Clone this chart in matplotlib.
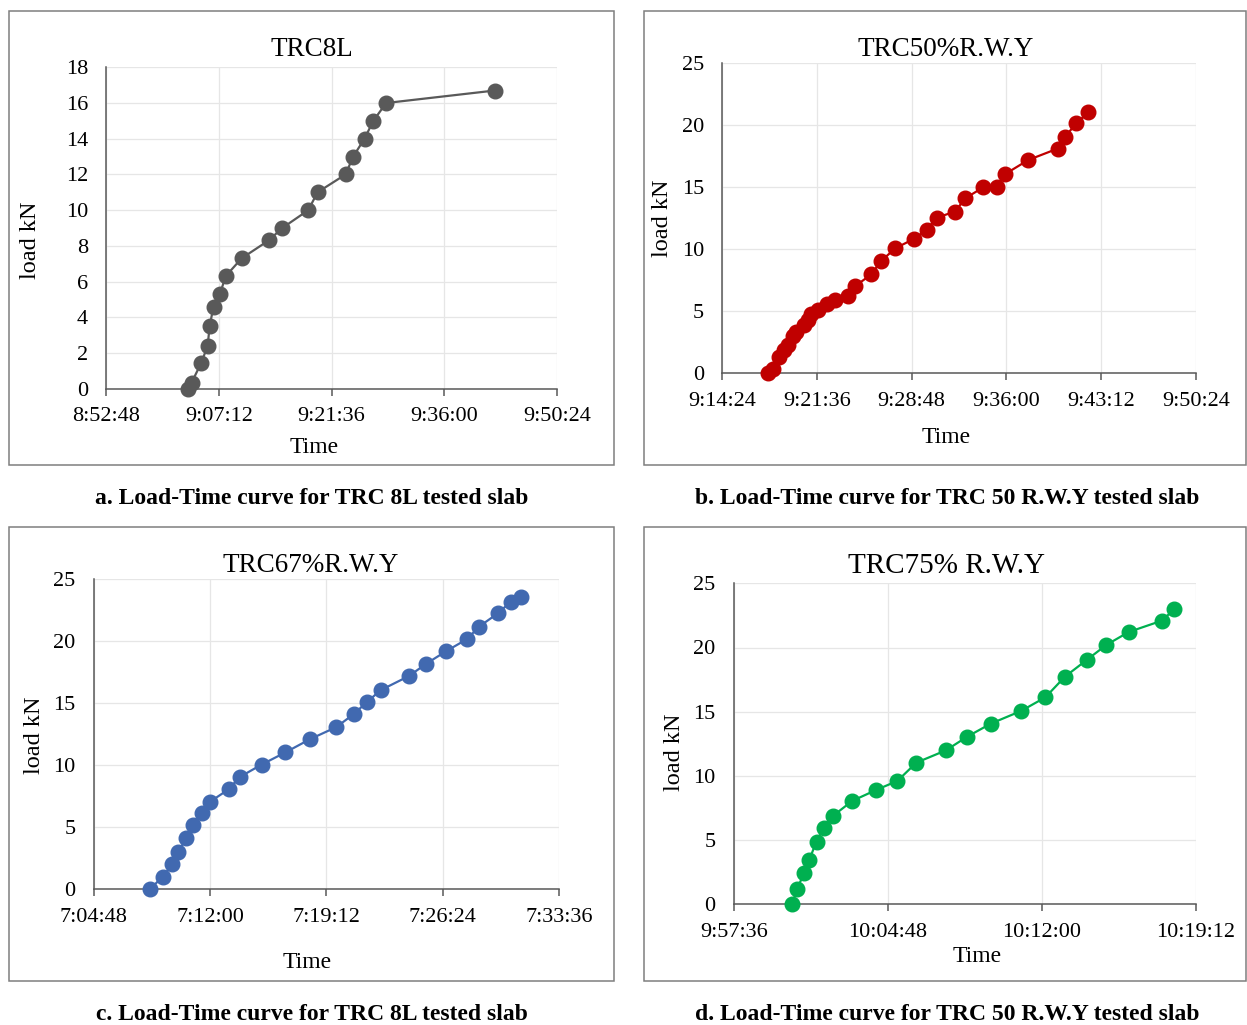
import matplotlib
matplotlib.use('Agg')
import matplotlib.pyplot as plt
import numpy as np
from matplotlib.ticker import FuncFormatter
from matplotlib.patches import Rectangle

plt.rcParams['font.family'] = ['Liberation Serif', 'DejaVu Serif']

# panel a: TRC8L
time_a = ['9:03:19', '9:03:44', '9:04:56', '9:05:47', '9:06:02', '9:06:32', '9:07:21',
          '9:08:05', '9:10:07', '9:13:34', '9:15:19', '9:18:38', '9:19:49', '9:23:24',
          '9:24:22', '9:25:49', '9:26:56', '9:28:35', '9:42:28']
load_a = [0, 0.34, 1.42, 2.39, 3.5, 4.6, 5.3, 6.3, 7.3, 8.3, 9.0, 10.0, 11.0, 12.0,
          13.0, 14.0, 15.0, 16.0, 16.7]

# panel b: TRC50%R.W.Y
time_b = ['9:17:53', '9:18:16', '9:18:46', '9:19:08', '9:19:24', '9:19:47', '9:20:02',
          '9:20:40', '9:20:55', '9:21:10', '9:21:41', '9:22:23', '9:22:59', '9:24:00',
          '9:24:31', '9:25:44', '9:26:29', '9:27:34', '9:29:01', '9:29:58', '9:30:43',
          '9:32:06', '9:32:53', '9:34:15', '9:35:16', '9:35:56', '9:37:40', '9:39:54',
          '9:40:28', '9:41:20', '9:42:14']
load_b = [0, 0.32, 1.28, 1.87, 2.27, 3.0, 3.34, 3.88, 4.28, 4.81, 5.13, 5.61, 5.94, 6.2,
          7.03, 7.97, 9.05, 10.08, 10.86, 11.59, 12.55, 13.04, 14.11, 15.0, 15.0, 16.08,
          17.2, 18.12, 19.09, 20.16, 21.05]

# panel c: TRC67%R.W.Y
time_c = ['7:08:17', '7:09:04', '7:09:40', '7:10:02', '7:10:31', '7:10:56', '7:11:29',
          '7:12:00', '7:13:09', '7:13:50', '7:15:11', '7:16:40', '7:18:10', '7:19:49',
          '7:20:55', '7:21:41', '7:22:34', '7:24:19', '7:25:23', '7:26:37', '7:27:55',
          '7:28:39', '7:29:49', '7:30:37', '7:31:14']
load_c = [0, 0.99, 1.99, 2.98, 4.11, 5.13, 6.13, 7.04, 8.04, 9.03, 10.03, 11.02, 12.07,
          13.06, 14.13, 15.05, 16.04, 17.18, 18.17, 19.18, 20.16, 21.16, 22.23, 23.17, 23.52]

# panel d: TRC75% R.W.Y
time_d = ['10:00:20', '10:00:33', '10:00:53', '10:01:07', '10:01:28', '10:01:49',
          '10:02:14', '10:03:08', '10:04:15', '10:05:15', '10:06:08', '10:07:31',
          '10:08:31', '10:09:37', '10:11:02', '10:12:10', '10:13:05', '10:14:06',
          '10:15:01', '10:16:04', '10:17:37', '10:18:11']
load_d = [0, 1.17, 2.41, 3.43, 4.88, 5.97, 6.88, 8.05, 8.9, 9.61, 11.03, 11.99, 13.06,
          14.07, 15.06, 16.12, 17.73, 19.03, 20.2, 21.21, 22.09, 22.97]


def to_sec(s):
    h, m, sec = map(int, s.split(':'))
    return h * 3600 + m * 60 + sec


def fmt_time(v, pos):
    v = int(round(v))
    return f"{v // 3600}:{v % 3600 // 60:02d}:{v % 60:02d}"


W, H = 1247, 1025
fig = plt.figure(figsize=(W / 100, H / 100), dpi=100)

panels = [
    dict(t=time_a, y=load_a, c='#595959', rect=(106, 67.3, 557, 388.7),
         x0='8:52:48', x1='9:50:24', step=864, ymax=18, ystep=2),
    dict(t=time_b, y=load_b, c='#C00000', rect=(722, 63.3, 1195.8, 373.3),
         x0='9:14:24', x1='9:50:24', step=432, ymax=25, ystep=5),
    dict(t=time_c, y=load_c, c='#4169B0', rect=(93.8, 579, 559, 889),
         x0='7:04:48', x1='7:33:36', step=432, ymax=25, ystep=5),
    dict(t=time_d, y=load_d, c='#00B050', rect=(733.8, 583.3, 1195.8, 904.3),
         x0='9:57:36', x1='10:19:12', step=432, ymax=25, ystep=5),
]

for p in panels:
    l, t, r, b = p['rect']
    ax = fig.add_axes([l / W, 1 - b / H, (r - l) / W, (b - t) / H])
    xs = [to_sec(s) for s in p['t']]
    ax.plot(xs, p['y'], color=p['c'], lw=1.6, marker='o', ms=10.5, zorder=3, clip_on=False)
    xa, xb = to_sec(p['x0']), to_sec(p['x1'])
    ax.set_xlim(xa, xb)
    ax.set_ylim(0, p['ymax'])
    ax.set_xticks(np.arange(xa, xb + 1, p['step']))
    ax.set_yticks(np.arange(0, p['ymax'] + 0.1, p['ystep']))
    ax.xaxis.set_major_formatter(FuncFormatter(fmt_time))
    ax.grid(True, color='#e6e6e6', lw=0.9)
    ax.set_axisbelow(True)
    for s in ['top', 'right']:
        ax.spines[s].set_visible(False)
    for s in ['left', 'bottom']:
        ax.spines[s].set_color('#595959')
        ax.spines[s].set_linewidth(1.1)
    ax.tick_params(axis='x', length=5, width=1.1, color='#595959', labelsize=16, pad=8.5)
    ax.tick_params(axis='y', length=0, labelsize=16, pad=13)

# chart frames
for (x0, y0, x1, y1) in [(9, 11, 614, 465), (644, 11, 1246, 465),
                         (9, 527, 614, 981), (644, 527, 1246, 981)]:
    fig.add_artist(Rectangle((x0 / W, 1 - y1 / H), (x1 - x0) / W, (y1 - y0) / H,
                             transform=fig.transFigure, fill=False,
                             edgecolor='#7f7f7f', lw=1.1))

titles = [('TRC8L', 312, 49, 19.5), ('TRC50%R.W.Y', 946, 49, 19.5),
          ('TRC67%R.W.Y', 311, 565, 19.5), ('TRC75% R.W.Y', 946, 566, 21)]
for txt, x, y, fs in titles:
    fig.text(x / W, 1 - y / H, txt, ha='center', va='center', fontsize=fs)

for x, y in [(314, 448), (946, 438), (307, 963), (977, 957)]:
    fig.text(x / W, 1 - y / H, 'Time', ha='center', va='center', fontsize=17)

for x, y in [(30, 240), (663, 218), (34, 735), (675, 752)]:
    fig.text(x / W, 1 - y / H, 'load kN', ha='center', va='center', fontsize=17.5,
             rotation=90)

captions = [('a. Load-Time curve for TRC 8L tested slab', 312, 498),
            ('b. Load-Time curve for TRC 50 R.W.Y tested slab', 947, 498),
            ('c. Load-Time curve for TRC 8L tested slab', 312, 1014),
            ('d. Load-Time curve for TRC 50 R.W.Y tested slab', 947, 1014)]
for txt, x, y in captions:
    fig.text(x / W, 1 - y / H, txt, ha='center', va='center', fontsize=17,
             fontweight='bold')

fig.savefig('out.png', dpi=100)
